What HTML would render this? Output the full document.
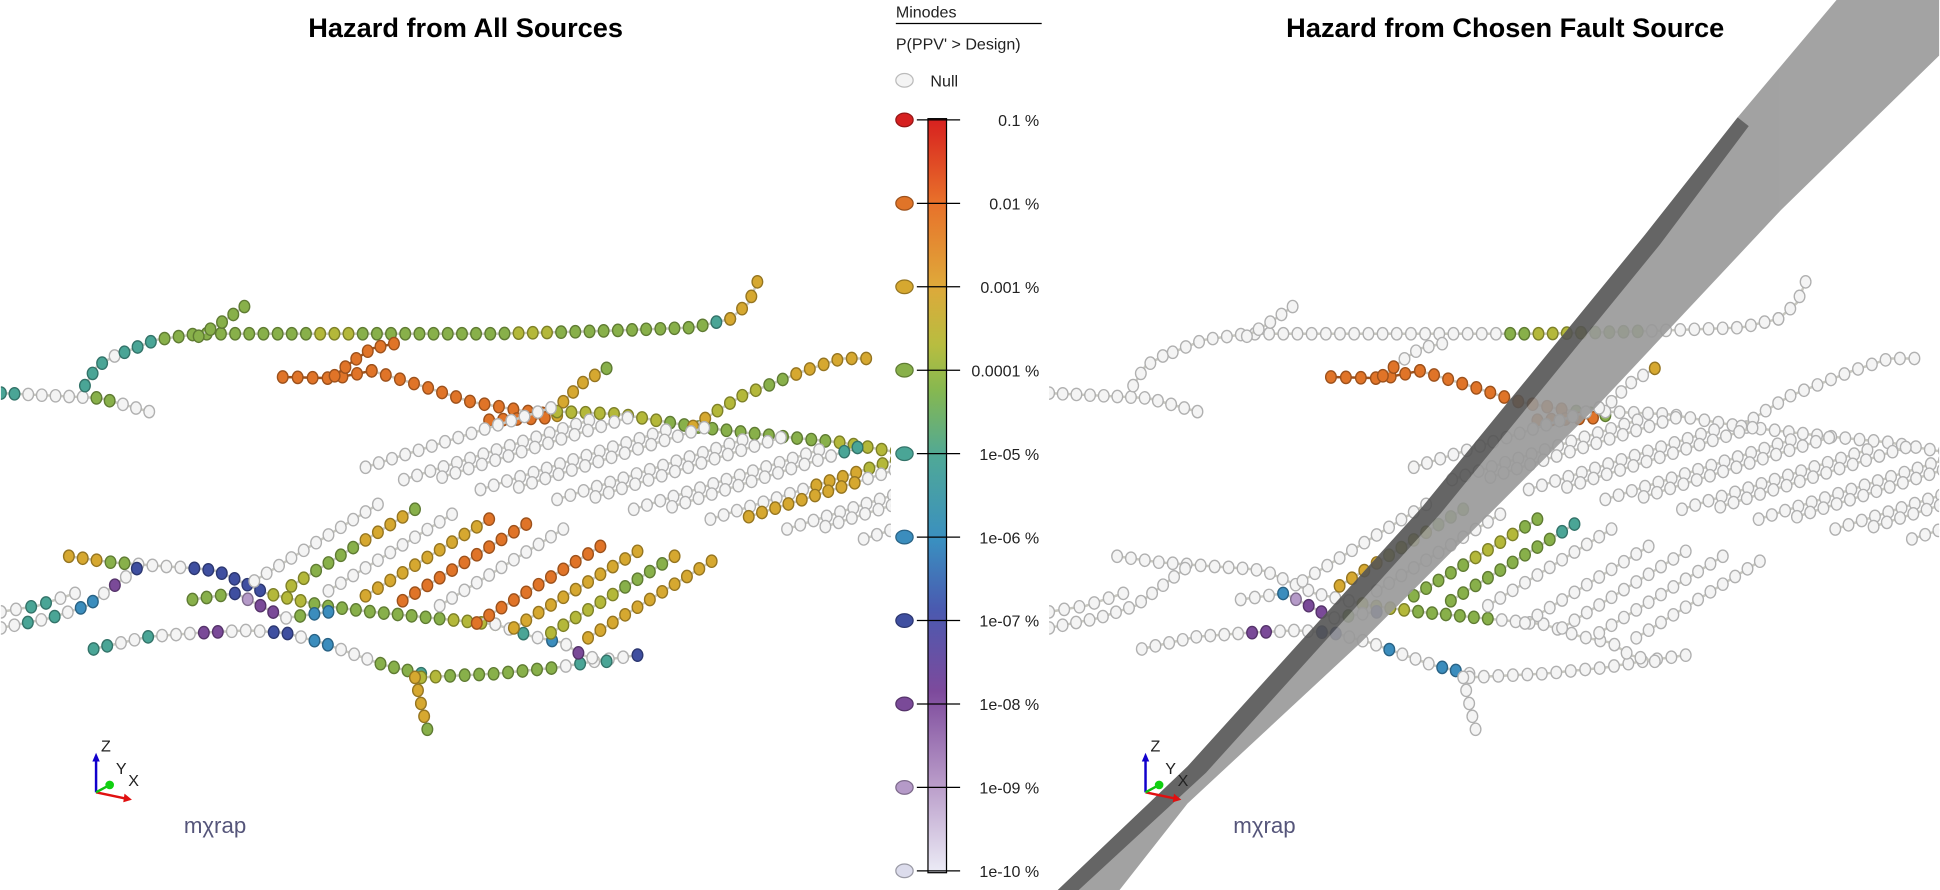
<!DOCTYPE html>
<html><head><meta charset="utf-8"><style>
html,body{margin:0;padding:0;background:#fff;width:1940px;height:890px;overflow:hidden}
svg{display:block}
.t{font-family:"Liberation Sans Narrow","Liberation Sans",sans-serif;font-weight:bold;font-size:22px;fill:#000}
.l{font-family:"Liberation Sans",sans-serif;font-size:13px;fill:#222}
</style></head><body>
<svg id="s" width="1940" height="890" viewBox="0 0 1568 720" xmlns="http://www.w3.org/2000/svg">
<defs>
<linearGradient id="cb" x1="0" y1="0" x2="0" y2="1">
<stop offset="0" stop-color="#d7201f"/><stop offset="0.11" stop-color="#e8702a"/>
<stop offset="0.22" stop-color="#dfa83a"/><stop offset="0.30" stop-color="#b8bd40"/>
<stop offset="0.36" stop-color="#86b850"/><stop offset="0.45" stop-color="#4fa898"/>
<stop offset="0.56" stop-color="#3a8fc0"/><stop offset="0.65" stop-color="#4a5ab0"/>
<stop offset="0.76" stop-color="#7d4a9c"/><stop offset="0.88" stop-color="#b89ac8"/>
<stop offset="1" stop-color="#ececf6"/></linearGradient>
<clipPath id="lc"><rect x="0" y="0" width="720" height="720"/></clipPath>
<clipPath id="rc"><rect x="848" y="0" width="720" height="720"/></clipPath>
</defs>
<text class="t" x="376" y="30" text-anchor="middle">Hazard from All Sources</text>
<text class="t" x="1217" y="30" text-anchor="middle">Hazard from Chosen Fault Source</text>
<g id="left" clip-path="url(#lc)"></g>
<g id="right" clip-path="url(#rc)"></g>
<g id="fault" opacity="0.9">
<polygon points="1485,0 1568,0 1568,45 1440,170 1290,330 1100,520 960,650 905,720 855,720 960,620 1150,410 1330,190 1405,95" fill="#999"/>
<polygon points="1405,95 1330,190 1150,410 960,620 855,720 872,720 975,625 1165,415 1342,198 1414,102" fill="#555"/>
</g>
<text class="l" x="724" y="14">Minodes</text>
<line x1="724" y1="19" x2="842" y2="19" stroke="#000" stroke-width="1"/>
<text class="l" x="724" y="40">P(PPV' &gt; Design)</text>
<ellipse cx="731" cy="65" rx="7" ry="5.5" fill="#f4f4f4" stroke="#bbb"/>
<text class="l" x="752" y="70">Null</text>
<rect x="750" y="96" width="15" height="610" fill="url(#cb)" stroke="#000" stroke-width="1"/>
<g id="leg"></g>
<g id="tri"></g>
</svg>
<script>
var C={r:'#d62020',o:'#e07428',g:'#d6a830',y:'#b4b83a',G:'#88b04a',t:'#4aa596',b:'#3b8dbd',n:'#3f4fa0',p:'#7a4a98',l:'#b59ac8',w:'#f4f4f4'};
function dk(h){if(h=='#f4f4f4')return '#b0b0b0';var n=parseInt(h.slice(1),16),r=(n>>16)*0.7|0,g=((n>>8)&255)*0.7|0,b=(n&255)*0.7|0;return 'rgb('+r+','+g+','+b+')';}
var NS='http://www.w3.org/2000/svg';
function el(p,t,a){var e=document.createElementNS(NS,t);for(var k in a)e.setAttribute(k,a[k]);p.appendChild(e);return e;}
function beads(g,pts,col,dx){
 var P=pts.map(function(p){return[p[0]+dx,p[1]]});
 var d='M'+P.map(function(p){return p.join(',')}).join('L');
 el(g,'path',{d:d,fill:'none',stroke:col=='w'||col.length>1?'#c8c8c0':dk(C[col]),'stroke-width':2});
 var L=0,seg=[];for(var i=1;i<P.length;i++){var l=Math.hypot(P[i][0]-P[i-1][0],P[i][1]-P[i-1][1]);seg.push(l);L+=l;}
 var n=Math.max(1,Math.round(L/11.5));
 for(var j=0;j<=n;j++){var s=L*j/n,k=0;while(k<seg.length-1&&s>seg[k]){s-=seg[k];k++;}
  var f=seg[k]?Math.min(1,s/seg[k]):0,x=P[k][0]+(P[k+1][0]-P[k][0])*f,y=P[k][1]+(P[k+1][1]-P[k][1])*f;
  var c=C[col[Math.min(col.length-1,Math.floor(j*col.length/(n+1)))]];
  el(g,'ellipse',{cx:x.toFixed(1),cy:y.toFixed(1),rx:4.3,ry:5,fill:c,stroke:dk(c),'stroke-width':1.1});}
}
var N=[
[[[0,318],[40,320],[80,322],[120,333]],'twwwGww','w'],
[[[68,312],[78,296],[92,288]],'ttw','w'],
[[[100,285],[125,275],[160,270],[200,270],[300,270],[400,270],[480,268],[560,265],[590,258]],'tGGGGGyGGGGGyGGGGGt','wwwwwwwwwwwGyyGGwwwww'],
[[[590,258],[605,245],[612,228]],'ggg','w'],
[[[160,272],[180,260],[197,248]],'GGG','w'],
[[[228,305],[270,306],[300,300]],'o','o'],
[[[270,304],[285,292],[300,282],[318,278]],'o','owww'],
[[[300,300],[340,312],[380,325],[420,332],[450,336]],'ooooooog','ooooooGG'],
[[[450,333],[500,335],[560,345],[620,352],[680,358],[720,365],[800,360],[860,370],[920,360],[980,370],[1020,365]],'yyGGGyygggyyg','w'],
[[[455,325],[470,310],[490,298]],'ggG','wwg'],
[[[395,340],[440,338]],'o','o'],
[[[560,345],[580,332],[600,320],[650,300],[680,290],[700,290]],'gyyGggg','w'],
[[[55,450],[90,455],[130,458],[160,460],[175,462],[215,480],[260,490],[300,495],[350,500],[400,505]],'gGwwnnnyGGGGGyy','wwwwwwwwwyyGGGww'],
[[[0,508],[40,500],[70,490],[90,475],[110,460]],'wtwtwbwpwn','w'],
[[[75,525],[120,515],[160,512],[200,510],[230,512],[260,520],[310,538],[340,545]],'twtwwpwwnwbwwGGt','wwwwwpwwnwwbwwbw'],
[[[340,548],[400,545],[450,540],[480,535],[515,530]],'yGGGGGGwtwwn','w'],
[[[335,548],[340,570],[345,590]],'ggggG','w'],
[[[400,505],[430,515],[455,520],[470,530],[490,535]],'wtwbwpwt','w'],
[[[155,485],[190,480],[210,490],[230,500],[265,495]],'GGnlpwGbb','wwblpwGwn'],
[[[0,495],[30,490],[60,480]],'wtw','w']
];
var uc=['w','w','w','w','w','w','w','w','wwwwwwt','wwwwggyy','ggggwww','wwwwwggg','wwwggg','wwwwwww'];
for(var i=0;i<14;i++){var sx=295+i*31,sy=378+i*4+(i%2)*6;N.push([[[sx,sy],[sx+150,sy-48]],uc[i],'w']);}
var lc=['w','yGGggG','w','ggggggo','oooooooo','w','oooooo','gggggg','yyyGGg','gggggg'];
var rc=['w','ggyyGG','w','GGyyG','GGGGt','w','w','w','w','w'];
for(var i=0;i<10;i++){var sx=205+i*30,sy=470+i*4+(i>5?10:0);N.push([[[sx,sy],[sx+100,sy-62]],lc[i],rc[i]]);}
var Lg=document.getElementById('left'),Rg=document.getElementById('right');
N.forEach(function(s){beads(Lg,s[0],s[1],0);beads(Rg,s[0],s[2],848);});
var leg=document.getElementById('leg'),labs=['0.1 %','0.01 %','0.001 %','0.0001 %','1e-05 %','1e-06 %','1e-07 %','1e-08 %','1e-09 %','1e-10 %'],lk='rogGtbnpl';
for(var i=0;i<10;i++){var y=97+i*67.5;el(leg,'line',{x1:741,y1:y,x2:776,y2:y,stroke:'#000','stroke-width':1});
 var c=i<9?C[lk[i]]:'#dcdcec';el(leg,'ellipse',{cx:731,cy:y,rx:7,ry:5.5,fill:c,stroke:dk(c)});
 var t=el(leg,'text',{'class':'l',x:840,y:y+5,'text-anchor':'end'});t.textContent=labs[i];}
var tri=document.getElementById('tri');
[0,849].forEach(function(dx){
 el(tri,'line',{x1:77+dx,y1:641,x2:77+dx,y2:614,stroke:'#10c','stroke-width':2});
 el(tri,'polygon',{points:(74+dx)+',616 '+(80+dx)+',616 '+(77+dx)+',609',fill:'#10c'});
 el(tri,'line',{x1:77+dx,y1:641,x2:101+dx,y2:646,stroke:'#e01010','stroke-width':2});
 el(tri,'polygon',{points:(100+dx)+',642 '+(99+dx)+',649 '+(106+dx)+',647',fill:'#e01010'});
 el(tri,'line',{x1:77+dx,y1:641,x2:88+dx,y2:635,stroke:'#10c010','stroke-width':2});
 el(tri,'circle',{cx:88+dx,cy:635,r:3.5,fill:'#10d010'});
 var a=el(tri,'text',{'class':'l',x:81+dx,y:608});a.textContent='Z';
 a=el(tri,'text',{'class':'l',x:93+dx,y:626});a.textContent='Y';
 a=el(tri,'text',{'class':'l',x:103+dx,y:636});a.textContent='X';
 a=el(tri,'text',{x:148+dx,y:674,'font-family':'Liberation Sans,sans-serif','font-size':18,fill:'#55557a'});a.textContent='mχrap';
});
</script>
</body></html>
